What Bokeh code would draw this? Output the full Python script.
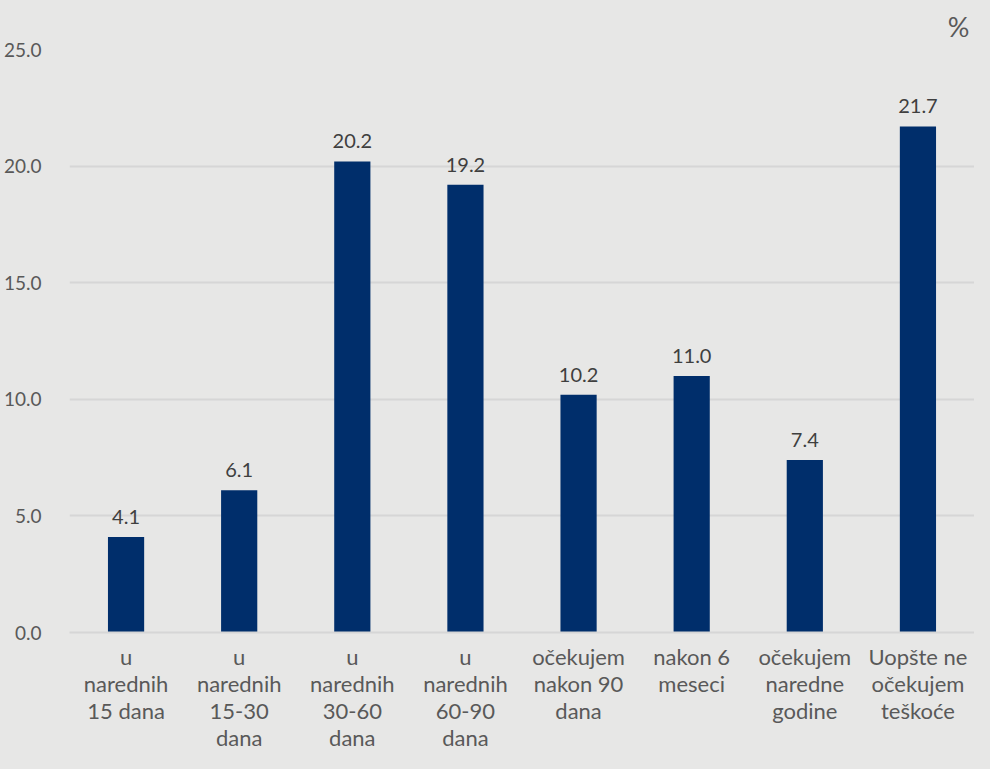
from bokeh.plotting import figure
from bokeh.models import ColumnDataSource, FixedTicker, NumeralTickFormatter
from bokeh.core.properties import value
from bokeh.embed import file_html
from bokeh.resources import INLINE

# ---- data ----
categories = [
    "u\nnarednih\n15 dana",
    "u\nnarednih\n15-30\ndana",
    "u\nnarednih\n30-60\ndana",
    "u\nnarednih\n60-90\ndana",
    "očekujem\nnakon 90\ndana",
    "nakon 6\nmeseci",
    "očekujem\nnaredne\ngodine",
    "Uopšte ne\nočekujem\nteškoće",
]
values = [4.1, 6.1, 20.2, 19.2, 10.2, 11.0, 7.4, 21.7]
y_ticks = [0, 5, 10, 15, 20, 25]
unit_label = "%"

BG = "#E7E7E6"
BAR = "#002E6B"
GRID = "#D6D6D6"
TXT = "#595959"
VAL = "#3F3F3F"
FONT = "Lato"

src = ColumnDataSource(dict(
    cat=categories,
    val=values,
    lbl=[f"{v:.1f}" for v in values],
))

p = figure(
    x_range=categories, y_range=(0, 25),
    width=974, height=753,
    output_backend="svg", toolbar_location=None,
    background_fill_color=BG, border_fill_color=BG,
    outline_line_color=None,
    min_border_left=66, min_border_right=0, min_border_top=0, min_border_bottom=0,
)

p.title.text = unit_label
p.title.align = "right"
p.title.text_font = FONT
p.title.text_font_size = "27px"
p.title.text_font_style = "normal"
p.title.text_color = TXT
p.title.offset = 5
p.title.standoff = 14

p.vbar(x="cat", top="val", width=0.32, source=src, fill_color=BAR, line_color=None)
p.text(x="cat", y="val", text="lbl", source=src, y_offset=-13,
       text_align="center", text_baseline="bottom",
       text_font=value(FONT), text_font_size="20px", text_color=VAL)

# grid
p.xgrid.grid_line_color = None
p.ygrid.grid_line_color = GRID
p.ygrid.grid_line_width = 2

# y axis
p.yaxis.ticker = FixedTicker(ticks=y_ticks)
p.yaxis.formatter = NumeralTickFormatter(format="0.0")
p.yaxis.axis_line_color = None
p.yaxis.major_tick_line_color = None
p.yaxis.minor_tick_line_color = None
p.yaxis.major_label_text_font = FONT
p.yaxis.major_label_text_font_size = "19px"
p.yaxis.major_label_text_color = TXT
p.yaxis.major_label_standoff = 22

# x axis
p.xaxis.axis_line_color = GRID
p.xaxis.axis_line_width = 2
p.xaxis.major_tick_line_color = None
p.xaxis.minor_tick_line_color = None
p.xaxis.major_label_text_font = FONT
p.xaxis.major_label_text_font_size = "22px"
p.xaxis.major_label_text_color = TXT
p.xaxis.major_label_text_line_height = 1.0
p.xaxis.major_label_standoff = 4

html = file_html(p, INLINE)
html = html.replace("<head>", "<head><style>body{background:%s;}</style>" % BG, 1)
open("out.html", "w").write(html)
